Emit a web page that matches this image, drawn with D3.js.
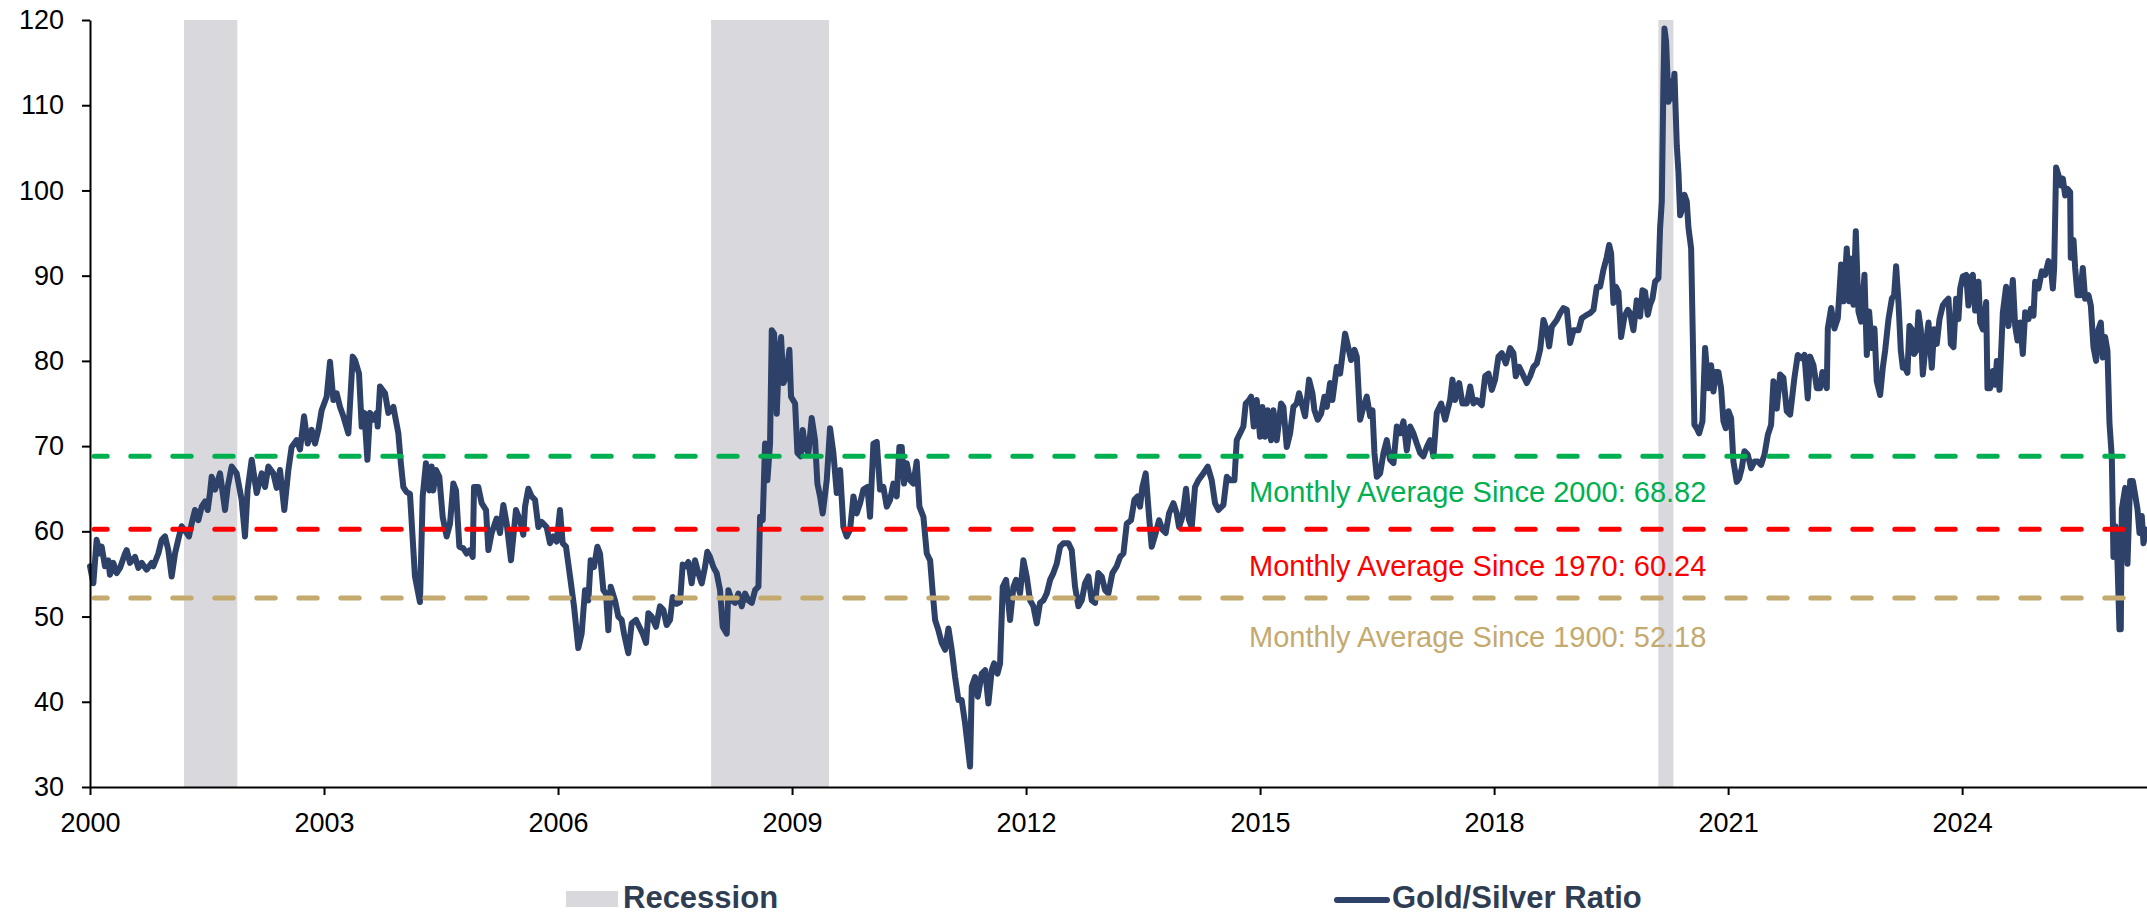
<!DOCTYPE html>
<html>
<head>
<meta charset="utf-8">
<script src="https://cdn.jsdelivr.net/npm/d3@7"></script>
<style>
  html, body { margin: 0; padding: 0; background: #ffffff; }
  svg { display: block; }
</style>
</head>
<body>
<svg id="chart" width="2147" height="915"></svg>
<script>
// ---------------- DATA ----------------
const xTickYears = [2000, 2003, 2006, 2009, 2012, 2015, 2018, 2021, 2024];
const yTickValues = [30, 40, 50, 60, 70, 80, 90, 100, 110, 120];

// NBER recessions, as decimal years [start, end]
const recessions = [[2001.205, 2001.888], [2007.962, 2009.474], [2020.106, 2020.299]];

const averageValues = [68.82, 60.24, 52.18];
const averageLabels = [
  "Monthly Average Since 2000: 68.82",
  "Monthly Average Since 1970: 60.24",
  "Monthly Average Since 1900: 52.18"
];

const legendLabels = ["Recession", "Gold/Silver Ratio"];

// Gold/Silver ratio, [decimal year, ratio]
const goldSilverRatio = [
[2000.000,55.9],[2000.043,53.9],[2000.085,59.0],[2000.128,57.4],[2000.150,58.2],[2000.192,55.9],[2000.235,56.6],[2000.256,54.9],
[2000.299,56.3],[2000.342,55.1],[2000.385,55.7],[2000.449,57.4],[2000.470,57.8],[2000.513,56.3],[2000.577,57.0],[2000.620,55.7],
[2000.662,56.3],[2000.726,55.5],[2000.791,56.3],[2000.812,55.9],[2000.876,57.4],[2000.919,59.0],[2000.962,59.4],[2001.004,57.8],
[2001.047,54.7],[2001.090,57.4],[2001.141,59.4],[2001.175,60.6],[2001.239,59.8],[2001.269,59.4],[2001.303,60.9],[2001.346,62.5],
[2001.389,61.3],[2001.432,62.9],[2001.474,63.5],[2001.509,62.5],[2001.526,63.7],[2001.538,64.5],[2001.560,66.4],[2001.603,64.9],
[2001.667,66.8],[2001.731,62.5],[2001.765,65.2],[2001.816,67.6],[2001.880,66.8],[2001.944,63.7],[2001.987,59.4],[2002.021,64.9],
[2002.073,68.4],[2002.137,64.5],[2002.201,66.8],[2002.244,65.2],[2002.286,67.6],[2002.350,66.8],[2002.393,65.1],[2002.436,67.2],
[2002.491,62.5],[2002.543,67.2],[2002.585,69.9],[2002.650,70.7],[2002.692,69.6],[2002.744,73.5],[2002.791,70.3],[2002.842,71.9],
[2002.885,70.3],[2002.927,71.9],[2002.970,74.2],[2003.034,75.8],[2003.077,79.9],[2003.120,75.4],[2003.162,76.2],[2003.205,74.6],
[2003.248,73.5],[2003.312,71.5],[2003.368,80.5],[2003.397,80.1],[2003.449,78.5],[2003.483,72.3],[2003.517,73.9],[2003.556,68.4],
[2003.590,73.9],[2003.632,73.1],[2003.675,73.9],[2003.688,72.3],[2003.718,77.0],[2003.782,76.2],[2003.825,73.9],[2003.889,74.6],
[2003.953,71.5],[2003.985,68.0],[2004.017,65.2],[2004.059,64.6],[2004.102,64.4],[2004.166,54.7],[2004.230,51.7],[2004.265,64.1],
[2004.307,68.0],[2004.350,64.8],[2004.380,67.6],[2004.401,64.8],[2004.436,67.2],[2004.478,66.4],[2004.521,61.7],[2004.572,59.4],
[2004.615,60.9],[2004.658,65.6],[2004.692,64.8],[2004.735,58.2],[2004.786,58.0],[2004.829,57.4],[2004.871,57.8],[2004.906,57.0],
[2004.923,65.2],[2004.978,65.2],[2005.021,63.3],[2005.077,62.5],[2005.107,57.8],[2005.149,59.8],[2005.213,61.5],[2005.256,59.8],
[2005.299,63.1],[2005.342,60.9],[2005.397,56.6],[2005.461,62.5],[2005.513,61.3],[2005.555,59.6],[2005.577,62.9],[2005.619,65.0],
[2005.662,64.1],[2005.705,63.7],[2005.748,60.5],[2005.790,61.1],[2005.854,60.5],[2005.897,58.6],[2005.940,59.4],[2005.983,58.8],
[2006.025,62.5],[2006.060,58.6],[2006.102,58.2],[2006.154,54.7],[2006.205,51.2],[2006.260,46.3],[2006.303,48.0],[2006.346,53.1],
[2006.389,51.9],[2006.418,56.6],[2006.461,55.8],[2006.504,58.2],[2006.538,57.4],[2006.581,53.1],[2006.615,52.7],[2006.645,48.4],
[2006.675,53.5],[2006.730,51.9],[2006.773,50.0],[2006.816,49.6],[2006.846,48.0],[2006.901,45.7],[2006.944,49.2],[2007.000,49.6],
[2007.042,48.8],[2007.085,48.0],[2007.128,46.9],[2007.158,50.4],[2007.201,50.0],[2007.256,48.8],[2007.307,51.2],[2007.350,50.8],
[2007.393,49.0],[2007.436,49.6],[2007.470,52.3],[2007.521,51.5],[2007.564,51.7],[2007.598,56.1],[2007.641,55.9],[2007.671,56.4],
[2007.713,53.9],[2007.756,56.6],[2007.799,55.1],[2007.842,53.9],[2007.884,55.8],[2007.914,57.6],[2007.948,57.0],[2007.992,55.8],
[2008.034,55.1],[2008.077,53.1],[2008.111,48.8],[2008.163,48.0],[2008.184,53.1],[2008.227,51.9],[2008.270,51.6],[2008.312,52.7],
[2008.355,51.2],[2008.398,52.7],[2008.440,51.9],[2008.483,51.6],[2008.526,53.1],[2008.569,53.5],[2008.590,61.7],[2008.624,61.3],
[2008.654,70.3],[2008.684,66.0],[2008.718,70.3],[2008.740,83.6],[2008.770,83.2],[2008.804,73.8],[2008.834,80.9],[2008.859,82.8],
[2008.889,77.4],[2008.923,78.1],[2008.966,81.3],[2008.987,75.8],[2009.039,75.0],[2009.069,69.2],[2009.111,68.8],[2009.137,71.9],
[2009.167,69.9],[2009.210,69.2],[2009.252,73.3],[2009.295,70.7],[2009.325,65.6],[2009.359,64.1],[2009.393,62.1],[2009.445,66.0],
[2009.487,72.1],[2009.530,69.2],[2009.573,64.5],[2009.616,67.2],[2009.658,60.5],[2009.701,59.4],[2009.744,60.2],[2009.787,64.1],
[2009.829,62.1],[2009.872,63.3],[2009.915,64.9],[2009.966,65.2],[2010.000,61.7],[2010.043,70.3],[2010.086,70.5],[2010.128,64.9],
[2010.171,65.2],[2010.214,62.9],[2010.257,63.7],[2010.299,65.6],[2010.342,64.1],[2010.376,69.9],[2010.406,69.9],[2010.436,65.6],
[2010.470,68.0],[2010.513,66.0],[2010.556,65.6],[2010.598,68.2],[2010.633,62.9],[2010.684,61.7],[2010.727,57.4],[2010.770,56.6],
[2010.804,52.7],[2010.834,49.6],[2010.876,48.4],[2010.919,46.9],[2010.962,46.1],[2011.005,48.6],[2011.047,46.1],[2011.090,42.9],
[2011.133,40.2],[2011.175,40.2],[2011.218,37.5],[2011.282,32.4],[2011.304,41.8],[2011.346,42.9],[2011.381,40.6],[2011.432,43.3],
[2011.475,43.7],[2011.517,39.8],[2011.560,43.7],[2011.590,44.5],[2011.633,43.3],[2011.667,44.5],[2011.701,53.5],[2011.744,54.3],
[2011.795,49.6],[2011.838,53.5],[2011.872,54.3],[2011.923,52.7],[2011.966,56.6],[2012.008,54.7],[2012.051,51.9],[2012.094,51.2],
[2012.137,49.2],[2012.179,51.6],[2012.222,51.9],[2012.265,52.7],[2012.308,54.3],[2012.350,55.1],[2012.393,56.2],[2012.436,58.2],
[2012.478,58.6],[2012.543,58.6],[2012.585,57.8],[2012.628,53.5],[2012.671,51.2],[2012.714,51.9],[2012.756,53.9],[2012.799,54.7],
[2012.842,51.9],[2012.885,51.6],[2012.927,55.1],[2012.970,54.7],[2013.013,53.1],[2013.055,52.7],[2013.107,55.1],[2013.162,55.9],
[2013.205,57.0],[2013.248,57.4],[2013.291,60.9],[2013.346,61.3],[2013.389,63.7],[2013.431,64.1],[2013.461,62.9],[2013.491,65.2],
[2013.534,66.8],[2013.577,61.7],[2013.611,58.2],[2013.662,59.8],[2013.705,61.3],[2013.748,60.2],[2013.790,59.8],[2013.833,62.1],
[2013.889,63.3],[2013.932,62.1],[2013.961,60.5],[2014.004,61.7],[2014.051,65.0],[2014.090,61.3],[2014.124,60.5],[2014.166,65.2],
[2014.209,66.0],[2014.273,66.8],[2014.329,67.6],[2014.380,66.0],[2014.423,63.3],[2014.466,62.5],[2014.530,63.1],[2014.573,66.4],
[2014.615,66.0],[2014.671,66.0],[2014.701,70.7],[2014.743,71.5],[2014.786,72.3],[2014.816,75.0],[2014.859,75.4],[2014.885,75.8],
[2014.919,72.3],[2014.957,75.4],[2015.000,71.1],[2015.030,74.6],[2015.064,71.1],[2015.098,74.2],[2015.141,70.7],[2015.171,74.2],
[2015.214,70.7],[2015.269,75.0],[2015.299,74.6],[2015.342,69.9],[2015.385,71.5],[2015.427,74.6],[2015.470,75.0],[2015.500,76.2],
[2015.534,75.0],[2015.577,73.5],[2015.628,77.8],[2015.671,76.2],[2015.697,74.2],[2015.739,73.1],[2015.782,73.8],[2015.825,75.8],
[2015.855,74.6],[2015.897,77.4],[2015.927,75.4],[2015.983,79.3],[2016.026,78.5],[2016.090,83.2],[2016.167,80.1],[2016.210,81.3],
[2016.240,80.5],[2016.282,73.1],[2016.325,74.6],[2016.368,75.8],[2016.411,73.5],[2016.441,74.2],[2016.466,69.2],[2016.496,66.4],
[2016.539,66.8],[2016.582,69.2],[2016.624,70.7],[2016.667,68.4],[2016.710,68.0],[2016.753,72.3],[2016.795,71.5],[2016.838,72.9],
[2016.881,69.5],[2016.924,72.3],[2016.966,71.5],[2017.009,70.3],[2017.052,69.2],[2017.094,68.8],[2017.137,69.9],[2017.180,70.7],
[2017.223,68.8],[2017.265,73.9],[2017.321,75.0],[2017.372,73.1],[2017.436,75.4],[2017.466,77.8],[2017.500,75.4],[2017.552,77.4],
[2017.594,75.0],[2017.650,75.0],[2017.693,77.0],[2017.735,75.0],[2017.778,75.4],[2017.842,74.8],[2017.885,78.2],[2017.928,78.5],
[2017.971,76.6],[2018.013,77.8],[2018.056,80.5],[2018.099,80.9],[2018.150,79.7],[2018.206,81.5],[2018.248,80.9],[2018.278,78.2],
[2018.321,79.3],[2018.364,78.5],[2018.419,77.4],[2018.462,78.2],[2018.505,79.3],[2018.547,79.7],[2018.590,81.3],[2018.633,84.8],
[2018.676,83.6],[2018.706,81.7],[2018.740,84.0],[2018.804,84.8],[2018.847,85.6],[2018.889,86.2],[2018.932,86.0],[2018.975,82.1],
[2019.018,83.6],[2019.082,83.6],[2019.124,85.0],[2019.188,85.4],[2019.231,85.6],[2019.274,86.0],[2019.317,88.7],[2019.359,88.7],
[2019.402,90.7],[2019.445,92.2],[2019.475,93.6],[2019.500,92.6],[2019.530,86.8],[2019.560,88.7],[2019.594,88.1],[2019.628,82.8],
[2019.671,85.2],[2019.714,86.0],[2019.744,85.6],[2019.786,83.6],[2019.829,87.1],[2019.872,85.2],[2019.902,88.3],[2019.936,88.1],
[2019.970,85.4],[2020.000,86.6],[2020.030,87.3],[2020.064,89.3],[2020.107,89.7],[2020.128,95.6],[2020.150,98.7],[2020.171,112.8],
[2020.184,119.0],[2020.205,117.5],[2020.235,110.4],[2020.269,112.8],[2020.286,110.8],[2020.312,113.7],[2020.342,105.3],[2020.363,102.2],
[2020.385,97.1],[2020.415,97.9],[2020.440,99.5],[2020.470,98.7],[2020.492,95.6],[2020.526,93.2],[2020.547,83.0],[2020.568,72.5],
[2020.598,72.1],[2020.628,71.5],[2020.671,72.9],[2020.705,81.5],[2020.748,76.8],[2020.782,79.5],[2020.812,76.4],[2020.842,78.7],
[2020.876,78.7],[2020.910,76.8],[2020.940,72.9],[2020.970,72.1],[2021.004,74.1],[2021.038,73.3],[2021.068,68.2],[2021.111,65.8],
[2021.141,66.2],[2021.175,67.4],[2021.209,69.4],[2021.252,69.0],[2021.295,67.4],[2021.338,68.2],[2021.380,68.2],[2021.423,67.8],
[2021.466,69.0],[2021.509,71.3],[2021.551,72.5],[2021.581,77.6],[2021.624,74.4],[2021.667,78.4],[2021.709,78.0],[2021.752,74.1],
[2021.795,73.7],[2021.850,78.0],[2021.893,80.7],[2021.944,80.3],[2021.979,80.7],[2022.021,75.6],[2022.051,80.5],[2022.094,79.5],
[2022.137,76.8],[2022.180,76.8],[2022.209,78.7],[2022.265,76.8],[2022.278,83.8],[2022.321,86.2],[2022.363,83.8],[2022.406,85.0],
[2022.449,91.3],[2022.479,87.0],[2022.521,93.2],[2022.551,87.0],[2022.577,92.0],[2022.607,86.6],[2022.637,95.2],[2022.671,85.8],
[2022.705,84.6],[2022.748,90.1],[2022.778,80.7],[2022.808,85.8],[2022.842,81.5],[2022.876,83.8],[2022.906,77.6],[2022.949,76.0],
[2022.983,79.2],[2023.013,81.2],[2023.056,84.9],[2023.099,87.3],[2023.128,87.7],[2023.154,91.1],[2023.184,86.9],[2023.214,81.2],
[2023.240,79.2],[2023.270,79.2],[2023.299,78.6],[2023.325,84.1],[2023.355,83.7],[2023.385,80.8],[2023.411,81.2],[2023.440,85.7],
[2023.470,83.7],[2023.496,78.4],[2023.526,81.2],[2023.569,84.5],[2023.611,79.2],[2023.641,83.7],[2023.675,82.0],[2023.710,84.9],
[2023.752,86.5],[2023.782,86.9],[2023.825,87.3],[2023.855,82.0],[2023.889,81.6],[2023.923,87.3],[2023.953,84.9],[2023.975,88.5],
[2024.009,89.9],[2024.052,90.1],[2024.081,86.5],[2024.103,89.7],[2024.137,90.1],[2024.167,85.9],[2024.210,89.3],[2024.231,84.5],
[2024.265,83.7],[2024.308,86.9],[2024.325,76.8],[2024.359,76.8],[2024.393,78.8],[2024.423,77.2],[2024.445,80.0],[2024.479,76.6],
[2024.522,85.7],[2024.564,88.7],[2024.594,84.1],[2024.624,86.9],[2024.650,89.5],[2024.680,84.1],[2024.710,82.4],[2024.744,84.5],
[2024.778,80.8],[2024.808,85.7],[2024.851,84.9],[2024.881,86.1],[2024.915,85.3],[2024.936,89.3],[2024.979,88.5],[2025.022,90.5],
[2025.064,90.1],[2025.107,91.7],[2025.137,90.9],[2025.163,88.5],[2025.180,90.9],[2025.205,102.7],[2025.235,101.8],[2025.265,100.6],
[2025.291,101.4],[2025.321,99.4],[2025.351,100.2],[2025.385,99.8],[2025.393,92.1],[2025.428,94.2],[2025.449,90.9],[2025.479,87.7],
[2025.513,87.7],[2025.547,90.9],[2025.577,87.3],[2025.620,87.7],[2025.650,86.5],[2025.684,81.6],[2025.718,80.0],[2025.748,83.7],
[2025.778,84.5],[2025.804,80.4],[2025.833,82.8],[2025.863,81.2],[2025.889,72.7],[2025.919,68.7],[2025.940,57.0],[2025.966,60.6],
[2025.991,56.6],[2026.017,48.5],[2026.034,48.5],[2026.047,62.6],[2026.090,65.1],[2026.120,56.2],[2026.154,65.9],[2026.188,65.9],
[2026.218,64.3],[2026.248,62.6],[2026.274,59.8],[2026.303,61.8],[2026.325,58.6],[2026.359,60.2]
];

// ---------------- STYLE ----------------
const COLORS = {
  line: "#2E4169",
  recession: "#D9D8DC",
  averages: ["#00B050", "#FF0000", "#C4AA6E"],
  axis: "#000000",
  legendText: "#2F3D53"
};
const FONT = "'Liberation Sans', Arial, Helvetica, sans-serif";

// ---------------- SCALES ----------------
const svg = d3.select("#chart");
const x = d3.scaleLinear().domain([2000, 2026.37]).range([90, 2147]);
const y = d3.scaleLinear().domain([30, 120]).range([787, 20]);

// Recession bands
svg.append("g").selectAll("rect")
  .data(recessions)
  .join("rect")
  .attr("x", d => x(d[0]))
  .attr("width", d => x(d[1]) - x(d[0]))
  .attr("y", y(120))
  .attr("height", y(30) - y(120))
  .attr("fill", COLORS.recession);

// Series line
const line = d3.line().x(d => x(d[0])).y(d => y(d[1]));
svg.append("path")
  .datum(goldSilverRatio)
  .attr("d", line)
  .attr("fill", "none")
  .attr("stroke", COLORS.line)
  .attr("stroke-width", 6)
  .attr("stroke-linejoin", "round")
  .attr("stroke-linecap", "round");

// Average dashed lines
svg.append("g").selectAll("line")
  .data(averageValues)
  .join("line")
  .attr("x1", x(2000) + 4.2)
  .attr("x2", x.range()[1] - 12)
  .attr("y1", d => y(d))
  .attr("y2", d => y(d))
  .attr("stroke", (d, i) => COLORS.averages[i])
  .attr("stroke-width", 5)
  .attr("stroke-linecap", "round")
  .attr("stroke-dasharray", "18.4,23.6")
  .attr("stroke-dashoffset", 5.4);

// Average labels
const labelBaselines = [502, 576, 646.5];
svg.append("g").selectAll("text")
  .data(averageLabels)
  .join("text")
  .attr("x", 1249)
  .attr("y", (d, i) => labelBaselines[i])
  .attr("fill", (d, i) => COLORS.averages[i])
  .style("font-family", FONT)
  .style("font-size", "29px")
  .text(d => d);

// Axes
const xAxis = d3.axisBottom(x)
  .tickValues(xTickYears)
  .tickFormat(d3.format("d"))
  .tickSize(8)
  .tickSizeOuter(0)
  .tickPadding(18);
const yAxis = d3.axisLeft(y)
  .tickValues(yTickValues)
  .tickSize(8)
  .tickSizeOuter(0)
  .tickPadding(18);

const gx = svg.append("g").attr("transform", `translate(0,${y(30)})`).call(xAxis);
const gy = svg.append("g").attr("transform", `translate(${x(2000)},0)`).call(yAxis);
[gx, gy].forEach(g => {
  g.select(".domain").attr("stroke", COLORS.axis).attr("stroke-width", 2);
  g.selectAll(".tick line").attr("stroke", COLORS.axis).attr("stroke-width", 2);
  g.selectAll(".tick text")
    .attr("fill", "#000")
    .style("font-family", FONT)
    .style("font-size", "27px");
});

// Legend
const legend = svg.append("g");
legend.append("rect")
  .attr("x", 566).attr("y", 891).attr("width", 52).attr("height", 16)
  .attr("fill", COLORS.recession);
legend.append("text")
  .attr("x", 623).attr("y", 907.5)
  .attr("fill", COLORS.legendText)
  .style("font-family", FONT).style("font-weight", "bold").style("font-size", "31px")
  .text(legendLabels[0]);
legend.append("line")
  .attr("x1", 1337).attr("x2", 1387).attr("y1", 900).attr("y2", 900)
  .attr("stroke", COLORS.line).attr("stroke-width", 6).attr("stroke-linecap", "round");
legend.append("text")
  .attr("x", 1392).attr("y", 907.5)
  .attr("fill", COLORS.legendText)
  .style("font-family", FONT).style("font-weight", "bold").style("font-size", "31px")
  .text(legendLabels[1]);
</script>
</body>
</html>
